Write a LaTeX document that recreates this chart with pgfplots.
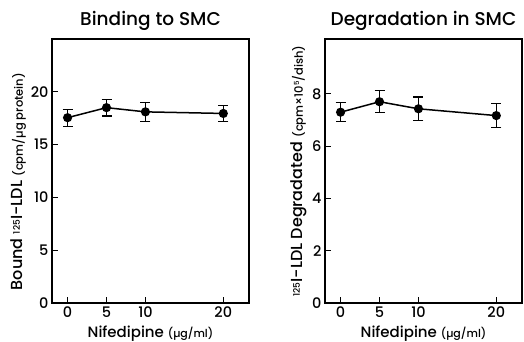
\documentclass[border=0pt]{standalone}
\usepackage{fontspec}
\setmainfont{Poppins}[UprightFont=* Medium, BoldFont=* SemiBold]
\usepackage{pgfplots}
\pgfplotsset{compat=1.18}
\begin{document}
\begin{tikzpicture}
\path[use as bounding box] (0pt,0pt) rectangle (524pt,341pt);
\pgfplotsset{
  panel/.style={
    scale only axis,
    width=197pt, height=264pt,
    anchor=south west,
    axis line style={line width=1.1pt},
    xmin=-2, xmax=23.3,
    xtick={0,5,10,20},
    tick style={line width=0.9pt, black},
    major tick length=6pt,
    xtick pos=bottom, ytick pos=left,
    tick label style={font=\fontsize{14.5}{14.5}\selectfont},
    /pgf/number format/assume math mode=true,
    title style={font=\fontsize{18.5}{18.5}\selectfont, yshift=-1pt},
    xlabel style={font=\fontsize{15}{15}\selectfont, yshift=-1.5pt},
    ylabel style={font=\fontsize{16}{16}\selectfont},
  },
  dataplot/.style={line width=1.5pt, black, mark=*, mark size=3.8pt,
      mark options={fill=black, draw=black},
      error bars/.cd, y dir=both, y explicit,
      error mark options={rotate=90, mark size=5pt, line width=1.2pt, black},
      error bar style={line width=1.2pt, black}},
}
\begin{axis}[panel, at={(52pt,38pt)},
  ymin=0, ymax=25, ytick={0,5,10,15,20},
  title={Binding to SMC},
  xlabel={Nifedipine {\fontsize{11}{11}\selectfont(µg/ml)}},
  ylabel={Bound {\fontsize{9}{9}\selectfont\raisebox{0.6ex}{125}}I-LDL {\fontsize{11.5}{11.5}\selectfont(cpm/µg protein)}},
  ylabel style={yshift=-2pt, at={(ticklabel cs:0.46)}},
]
\addplot[dataplot] coordinates {
 (0,17.55) +- (0,0.8)
 (5,18.5) +- (0,0.8)
 (10,18.1) +- (0,0.9)
 (20,17.95) +- (0,0.78)
};
\end{axis}
\begin{axis}[panel, at={(325pt,38pt)},
  ymin=0, ymax=10.1, ytick={0,2,4,6,8},
  title={Degradation in SMC},
  xlabel={Nifedipine {\fontsize{11}{11}\selectfont(µg/ml)}},
  ylabel={{\fontsize{9}{9}\selectfont\raisebox{0.6ex}{125}}I-LDL Degradated {\fontsize{11.5}{11.5}\selectfont(cpm×10\raisebox{0.6ex}{\fontsize{7}{7}\selectfont5}/dish)}},
  ylabel style={yshift=-2pt},
]
\addplot[dataplot] coordinates {
 (0,7.3) +- (0,0.37)
 (5,7.7) +- (0,0.42)
 (10,7.43) +- (0,0.45)
 (20,7.17) +- (0,0.47)
};
\end{axis}
\end{tikzpicture}
\end{document}
